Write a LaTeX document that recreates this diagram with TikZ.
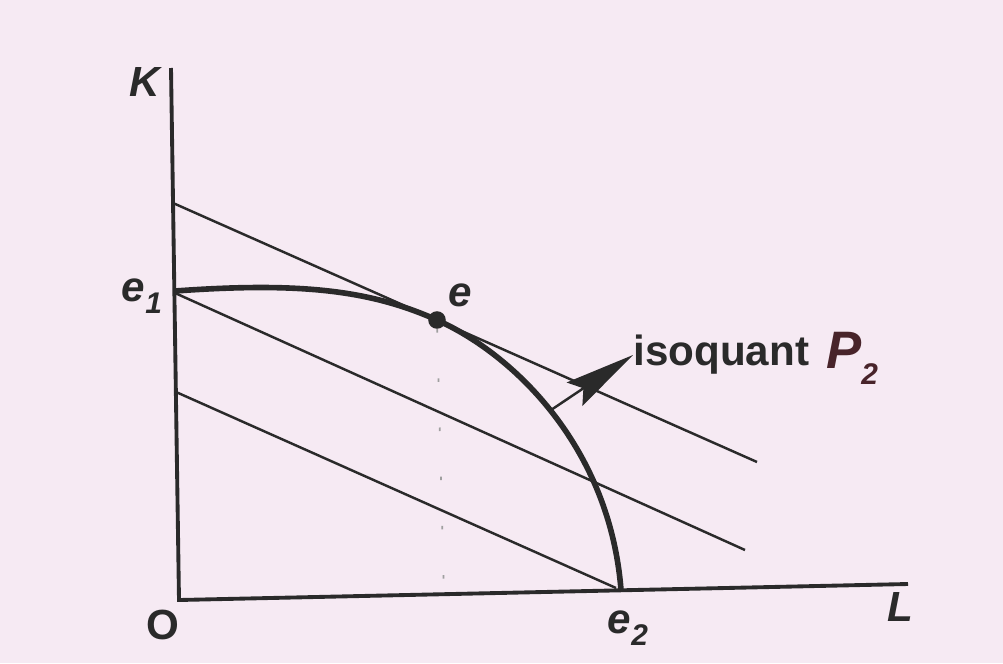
\documentclass[tikz,border=0pt]{standalone}
\usepackage{fontspec}
\setmainfont{Liberation Sans}
\usepackage{xcolor}
\usetikzlibrary{arrows.meta, positioning, backgrounds}
\definecolor{paper}{RGB}{246,234,243}
\definecolor{ink}{RGB}{42,42,42}
\definecolor{scrawl}{RGB}{72,36,42}
\newcommand{\lowsub}[1]{\raisebox{-0.3em}{\fontsize{17}{17}\selectfont #1}}
\tikzset{
  axis/.style={draw=ink, line width=2.2pt},
  budget/.style={draw=ink, line width=1.4pt},
  isoq/.style={draw=ink, line width=3.2pt},
  axlabel/.style={font=\fontsize{24}{26}\selectfont\bfseries\itshape, text=ink, inner sep=0pt},
  txtlabel/.style={font=\fontsize{24}{26}\selectfont\bfseries, text=ink, inner sep=0pt},
  pointer/.style={-{Stealth[length=40pt, width=16pt, inset=6pt]}, draw=ink, line width=1.4pt},
  guide/.style={draw=ink!45, line width=1pt, dash pattern=on 2pt off 26pt},
  dot/.style={circle, fill=ink, minimum size=10pt, inner sep=0pt},
}

\begin{document}
\begin{tikzpicture}[x=0.02cm, y=-0.02cm]
  \fill[paper] (0,0) rectangle (1003,663);
  \useasboundingbox (0,0) rectangle (1003,663);

  %% ---- AXES ----
  \coordinate (origin) at (179,600);
  \coordinate (ktop) at (171,68);
  \coordinate (lend) at (908,584);
  \draw[axis] (ktop) -- (origin) -- (lend);

  \node[axlabel] (klab) at (145,82) {K};
  \node[axlabel] (llab) at (900,607) {L};
  \node[txtlabel] (olab) at (163,625) {O};

  %% ---- ISOCOST LINES ----
  \coordinate (c1a) at (173,203);
  \coordinate (c1b) at (757,462);
  \coordinate (c2a) at (175,293);
  \coordinate (c2b) at (745,550);
  \coordinate (c3a) at (176,392);
  \coordinate (c3b) at (616,588);
  \draw[budget] (c1a) -- (c1b);
  \draw[budget] (c2a) -- (c2b);
  \draw[budget] (c3a) -- (c3b);

  %% ---- ISOQUANT ----
  \coordinate (e1pt) at (175,291);
  \coordinate (e2pt) at (621,590);
  \node[dot] (e) at (437,320) {};
  \coordinate (efoot) at (444,596);
  \draw[guide] (e) -- (efoot);
  \draw[isoq] (e1pt) .. controls (300,282) and (370,290) .. (e.center)
                     .. controls (517,356) and (610,450) .. (e2pt);

  \node[axlabel] (e1lab) at (142,296) {e\lowsub{1}};
  \node[axlabel] (elab) at (460,295) {e};
  \node[axlabel] (e2lab) at (628,628) {e\lowsub{2}};

  %% ---- LABEL ----
  \coordinate (arrtail) at (551,410);
  \node[txtlabel, anchor=west] (isolab) at (633,355) {isoquant};
  \node[font=\fontsize{30}{30}\selectfont\bfseries\itshape, text=scrawl, right=6pt of isolab, yshift=-2pt] (qlab) {P\lowsub{2}};
  \draw[pointer] (arrtail) -- (isolab.west);

\end{tikzpicture}
\end{document}
